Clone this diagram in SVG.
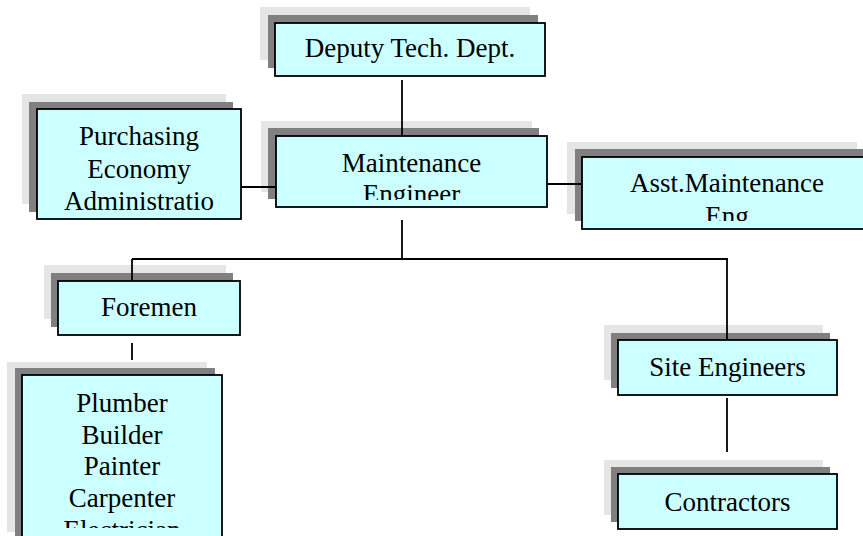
<svg xmlns="http://www.w3.org/2000/svg" width="863" height="536" viewBox="0 0 863 536">
<style>
.l{fill:#e5e5e5}
.d{fill:#808080}
.m{fill:#ccffff;stroke:#000;stroke-width:1.8}
.t{font-family:"Liberation Serif","Times New Roman",serif;font-size:27px;fill:#000;text-anchor:middle}
.c{stroke:#000;stroke-width:1.8;fill:none}
</style>
<defs>
<clipPath id="cpDeputy"><rect x="275" y="23" width="270" height="47"/></clipPath>
<clipPath id="cpMaint"><rect x="276" y="136" width="271" height="64"/></clipPath>
<clipPath id="cpPurch"><rect x="37" y="109" width="204" height="103"/></clipPath>
<clipPath id="cpAsst"><rect x="582" y="157" width="290" height="64"/></clipPath>
<clipPath id="cpFore"><rect x="58" y="281" width="182" height="48"/></clipPath>
<clipPath id="cpTrades"><rect x="22" y="375" width="200" height="153"/></clipPath>
<clipPath id="cpSite"><rect x="618" y="340" width="219" height="49"/></clipPath>
<clipPath id="cpCont"><rect x="618" y="474" width="219" height="49"/></clipPath>
</defs>

<g id="deputy">
<rect class="l" x="260" y="7" width="270" height="53"/>
<rect class="d" x="268" y="15" width="270" height="53"/>
<rect class="m" x="275" y="23" width="270" height="53"/>
<text class="t" clip-path="url(#cpDeputy)" x="410" y="57">Deputy Tech. Dept.</text>
</g>

<g id="purchasing">
<rect class="l" x="22" y="94" width="204" height="110"/>
<rect class="d" x="29" y="102" width="204" height="110"/>
<rect class="m" x="37" y="109" width="204" height="110"/>
<g class="t" clip-path="url(#cpPurch)">
<text x="139" y="145">Purchasing</text>
<text x="139" y="178">Economy</text>
<text x="139" y="210">Administratio</text>
</g>
</g>

<g id="maintenance">
<rect class="l" x="261" y="121" width="271" height="71"/>
<rect class="d" x="268" y="128" width="271" height="71"/>
<rect class="m" x="276" y="136" width="271" height="71"/>
<g class="t" clip-path="url(#cpMaint)">
<text x="411.5" y="172">Maintenance</text>
<text x="411.5" y="203">Engineer</text>
</g>
</g>

<g id="asst">
<rect class="l" x="567" y="142" width="290" height="72"/>
<rect class="d" x="575" y="149" width="290" height="72"/>
<rect class="m" x="582" y="157" width="290" height="72"/>
<g class="t" clip-path="url(#cpAsst)">
<text x="727" y="192">Asst.Maintenance</text>
<text x="727" y="225">Eng</text>
</g>
</g>

<g id="foremen">
<rect class="l" x="44" y="265" width="182" height="54"/>
<rect class="d" x="51" y="273" width="182" height="54"/>
<rect class="m" x="58" y="281" width="182" height="54"/>
<text class="t" clip-path="url(#cpFore)" x="149" y="316">Foremen</text>
</g>

<g id="trades">
<rect class="l" x="7" y="362" width="200" height="170"/>
<rect class="d" x="15" y="368" width="200" height="170"/>
<rect class="m" x="22" y="375" width="200" height="170"/>
<g class="t" clip-path="url(#cpTrades)">
<text x="122" y="412">Plumber</text>
<text x="122" y="444">Builder</text>
<text x="122" y="475">Painter</text>
<text x="122" y="507">Carpenter</text>
<text x="122" y="539">Electrician</text>
</g>
</g>

<g id="site">
<rect class="l" x="604" y="325" width="219" height="55"/>
<rect class="d" x="611" y="333" width="219" height="55"/>
<rect class="m" x="618" y="340" width="219" height="55"/>
<text class="t" clip-path="url(#cpSite)" x="727.5" y="376">Site Engineers</text>
</g>

<g id="contractors">
<rect class="l" x="604" y="460" width="219" height="55"/>
<rect class="d" x="611" y="467" width="219" height="55"/>
<rect class="m" x="618" y="474" width="219" height="55"/>
<text class="t" clip-path="url(#cpCont)" x="727.5" y="511">Contractors</text>
</g>

<g id="connectors" class="c">
<line x1="402" y1="80" x2="402" y2="135"/>
<line x1="241" y1="187" x2="276" y2="187"/>
<line x1="547" y1="184" x2="582" y2="184"/>
<line x1="402" y1="220" x2="402" y2="259"/>
<line x1="132" y1="259" x2="728" y2="259"/>
<line x1="132" y1="259" x2="132" y2="280"/>
<line x1="727" y1="259" x2="727" y2="339"/>
<line x1="132" y1="343" x2="132" y2="360"/>
<line x1="727" y1="398" x2="727" y2="452"/>
</g>
</svg>
